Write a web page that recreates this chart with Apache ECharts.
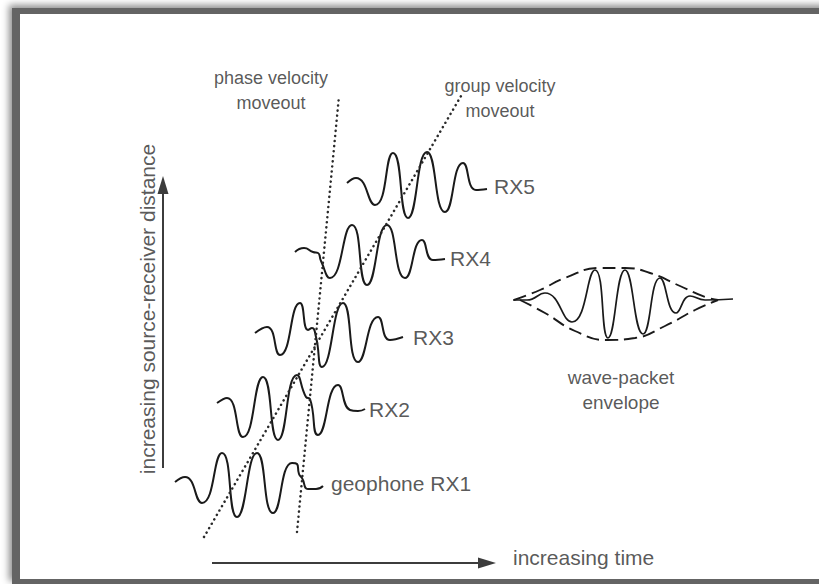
<!DOCTYPE html>
<html>
<head>
<meta charset="utf-8">
<script src="https://cdn.jsdelivr.net/npm/echarts@6/dist/echarts.min.js"></script>
<style>
html,body{margin:0;padding:0;background:#fff;overflow:hidden;width:819px;height:584px;}
#frame{position:absolute;left:12px;top:8px;width:1000px;height:576px;box-sizing:border-box;
  border-left:8px solid #646464;border-top:6px solid #646464;border-bottom:5px solid #646464;border-right:none;
  box-shadow:-3px -3px 7px rgba(0,0,0,0.45);}
#chart{position:absolute;left:0;top:0;width:819px;height:584px;}
</style>
</head>
<body>
<div id="frame"></div>
<div id="chart"></div>
<script>
// ---- data (time on x, distance on y, inverted) ----
const traceNames = ['geophone RX1', 'RX2', 'RX3', 'RX4', 'RX5'];
const rx1 = [[175,482],[185,477],[202,503],[222,453],[237,517],[257,453],[273,513],[292,463],[297,464],[299,474],[302,478],[308,489],[316,489],[323,486]];
const rx2 = [[217,403],[227,398],[243,437],[263,377],[278,440],[297,375],[306,397],[310,399],[318,435],[338,385],[350,410],[358,411],[365,409]];
const rx3 = [[255,333],[267,327],[280,355],[300,303],[308,330],[312,328],[316,337],[322,367],[343,303],[358,362],[378,317],[390,340],[403,337]];
const rx4 = [[295,252],[304,248],[313,252],[318,253],[321,261],[330,278],[352,225],[367,285],[387,225],[405,278],[422,240],[433,260],[445,259]];
const rx5 = [[347,183],[356,178],[375,205],[393,153],[408,218],[427,152],[445,212],[463,163],[476,190],[487,189]];
const traces = [rx1, rx2, rx3, rx4, rx5];
const traceLabelX = [331, 369, 413, 450, 494];
const traceLabelY = [483, 409, 337, 258, 186];

const phaseLine = [[297,532],[339,96]];
const groupLine = [[204,537],[461,96]];

const packetWave = [[513,300],[527,300],[545,293],[572,322],[595,270],[608,338],[625,270],[643,334],[660,278],[676,313],[690,296],[705,300],[733,299]];
const envUpper = [[514,300],[540,290],[565,278],[600,268],[625,268],[650,273],[680,286],[705,297],[718,300]];
const envLower = [[520,300],[545,313],[575,331],[607,340],[635,338],[665,326],[695,310],[718,300]];

const annotTexts = ['phase velocity\nmoveout', 'group velocity\nmoveout'];
const annotX = [271, 500];
const annotY = [90, 98];
const packetText = 'wave-packet\nenvelope';
const packetTextPos = [621, 390];

const timeArrow = [[212,563],[487,563]];
const distArrow = [[163,468],[163,185]];
const timeTitle = 'increasing time';
const timeTitlePos = [513, 557];
const distTitle = 'increasing source-receiver distance';
const distTitlePos = [147, 309];

// ---- chart ----
const FONT = '"Liberation Sans", Arial, Helvetica, sans-serif';
const TXT = '#2e2e2e';
const INK = '#1a1a1a';
const chart = echarts.init(document.getElementById('chart'), null, {renderer: 'svg', width: 819, height: 584});

const series = [];
traces.forEach((d, i) => {
  series.push({
    type: 'line', name: traceNames[i], data: d, smooth: 0.55,
    symbol: 'none', silent: true,
    lineStyle: {color: INK, width: 2}
  });
});
[phaseLine, groupLine].forEach(d => {
  series.push({
    type: 'line', data: d, symbol: 'none', silent: true,
    lineStyle: {color: '#2a2a2a', width: 2.5, type: [0.1, 5], cap: 'round'}
  });
});
series.push({type: 'line', data: packetWave, smooth: 0.5, symbol: 'none', silent: true,
  lineStyle: {color: INK, width: 1.7}});
[envUpper, envLower].forEach(d => {
  series.push({type: 'line', data: d, smooth: 0.5, symbol: 'none', silent: true,
    lineStyle: {color: INK, width: 1.9, type: [13, 6]}});
});
// arrows
series.push({
  type: 'line', data: [], silent: true,
  markLine: {
    silent: true, animation: false,
    symbol: ['none', 'triangle'], symbolSize: [11, 18],
    label: {show: false},
    lineStyle: {color: '#3c3c3c', width: 2, type: 'solid'},
    data: [
      [{coord: timeArrow[0]}, {coord: timeArrow[1]}],
      [{coord: distArrow[0]}, {coord: distArrow[1]}]
    ]
  }
});
// trace labels
series.push({
  type: 'scatter', symbolSize: 0, silent: true,
  data: traceNames.map((n, i) => ({value: [traceLabelX[i], traceLabelY[i]], name: n})),
  label: {show: true, position: [0, 0], align: 'left', verticalAlign: 'middle',
    formatter: p => p.name, color: TXT, fontSize: 21, fontFamily: FONT}
});
// annotations
series.push({
  type: 'scatter', symbolSize: 0, silent: true,
  data: annotTexts.map((t, i) => ({value: [annotX[i], annotY[i]], name: t})),
  label: {show: true, position: [0, 0], align: 'center', verticalAlign: 'middle',
    lineHeight: 25, formatter: p => p.name, color: TXT, fontSize: 18, fontFamily: FONT}
});
series.push({
  type: 'scatter', symbolSize: 0, silent: true,
  data: [{value: packetTextPos, name: packetText}],
  label: {show: true, position: [0, 0], align: 'center', verticalAlign: 'middle',
    lineHeight: 25, formatter: p => p.name, color: TXT, fontSize: 19, fontFamily: FONT}
});
// axis titles
series.push({
  type: 'scatter', symbolSize: 0, silent: true,
  data: [{value: timeTitlePos, name: timeTitle}],
  label: {show: true, position: [0, 0], align: 'left', verticalAlign: 'middle',
    formatter: p => p.name, color: TXT, fontSize: 21, fontFamily: FONT}
});
series.push({
  type: 'scatter', symbolSize: 0, silent: true,
  data: [{value: distTitlePos, name: distTitle}],
  label: {show: true, position: [0, 0], align: 'center', verticalAlign: 'middle', rotate: 90,
    formatter: p => p.name, color: TXT, fontSize: 21, fontFamily: FONT}
});

chart.setOption({
  animation: false,
  backgroundColor: 'transparent',
  grid: {left: 0, right: 0, top: 0, bottom: 0, containLabel: false},
  xAxis: {type: 'value', min: 0, max: 819, show: false},
  yAxis: {type: 'value', min: 0, max: 584, inverse: true, show: false},
  series: series
});
</script>
</body>
</html>
